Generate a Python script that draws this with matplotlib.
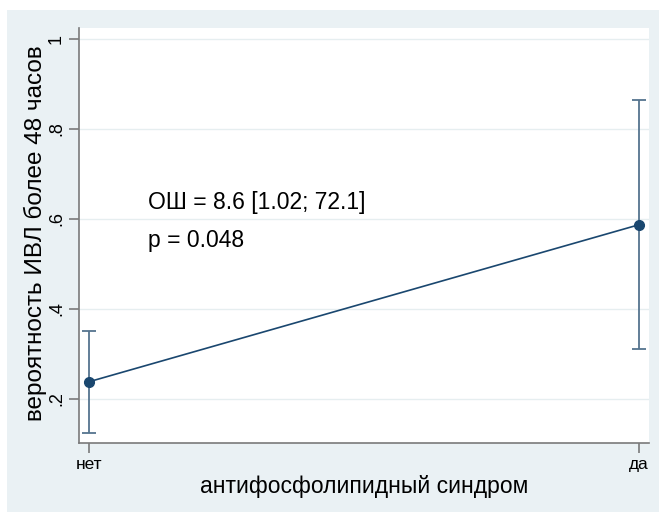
import matplotlib
matplotlib.use('Agg')
import matplotlib.pyplot as plt
from matplotlib.patches import Rectangle

plt.rcParams['font.family'] = ['Liberation Sans', 'DejaVu Sans']

# predicted probabilities with 95% CI
groups = ['нет', 'да']
prob = [0.238, 0.587]
ci_low = [0.124, 0.311]
ci_high = [0.351, 0.864]
yticks = [0.2, 0.4, 0.6, 0.8, 1.0]
ytick_labels = ['.2', '.4', '.6', '.8', '1']

bg = '#eaf1f4'
navy = '#1a476f'
bar_col = '#55748f'

fig = plt.figure(figsize=(6.59, 5.12), dpi=100)
fig.patch.set_facecolor('white')
fig.add_artist(Rectangle((7 / 659, 0), 1 - 7 / 659, 1 - 10 / 512,
                         transform=fig.transFigure, facecolor=bg,
                         edgecolor='none', zorder=-10))

ax = fig.add_axes([79 / 659, 1 - 443 / 512, 570 / 659, 415 / 512])
ax.set_facecolor('white')

x = list(range(len(groups)))
yerr = [[p - lo for p, lo in zip(prob, ci_low)],
        [hi - p for p, hi in zip(prob, ci_high)]]
ax.errorbar(x, prob, yerr=yerr, fmt='none', ecolor=bar_col, elinewidth=1.3,
            capsize=5, capthick=1.3, zorder=2)
ax.plot(x, prob, color=navy, lw=1.2, marker='o', ms=7, zorder=3)

ax.set_xlim(-0.018, 1.018)
ax.set_ylim(0.102, 1.024)
ax.set_xticks(x)
ax.set_xticklabels(groups, fontsize=12.5)
ax.set_yticks(yticks)
ax.set_yticklabels(ytick_labels, fontsize=13, rotation=90, va='center')
ax.grid(axis='y', color='#e6eef0', lw=1)
ax.set_axisbelow(True)

for s in ['top', 'right']:
    ax.spines[s].set_visible(False)
for s in ['left', 'bottom']:
    ax.spines[s].set_color('#7a7a7a')
    ax.spines[s].set_linewidth(1.2)
ax.tick_params(colors='#7a7a7a', length=7, width=1.2, labelcolor='black', pad=3)

ax.set_ylabel('вероятность ИВЛ более 48 часов', fontsize=17.5, va='center')
ax.yaxis.set_label_coords(-0.076, 0.506)
ax.set_xlabel('антифосфолипидный синдром', fontsize=16.5, va='center')
ax.xaxis.set_label_coords(0.5, -0.106)

ax.text(0.107, 0.636, 'ОШ = 8.6 [1.02; 72.1]', fontsize=16.5, va='center', ha='left')
ax.text(0.107, 0.551, 'p = 0.048', fontsize=16.5, va='center', ha='left')

fig.savefig('out.png', dpi=100, facecolor=fig.get_facecolor())
